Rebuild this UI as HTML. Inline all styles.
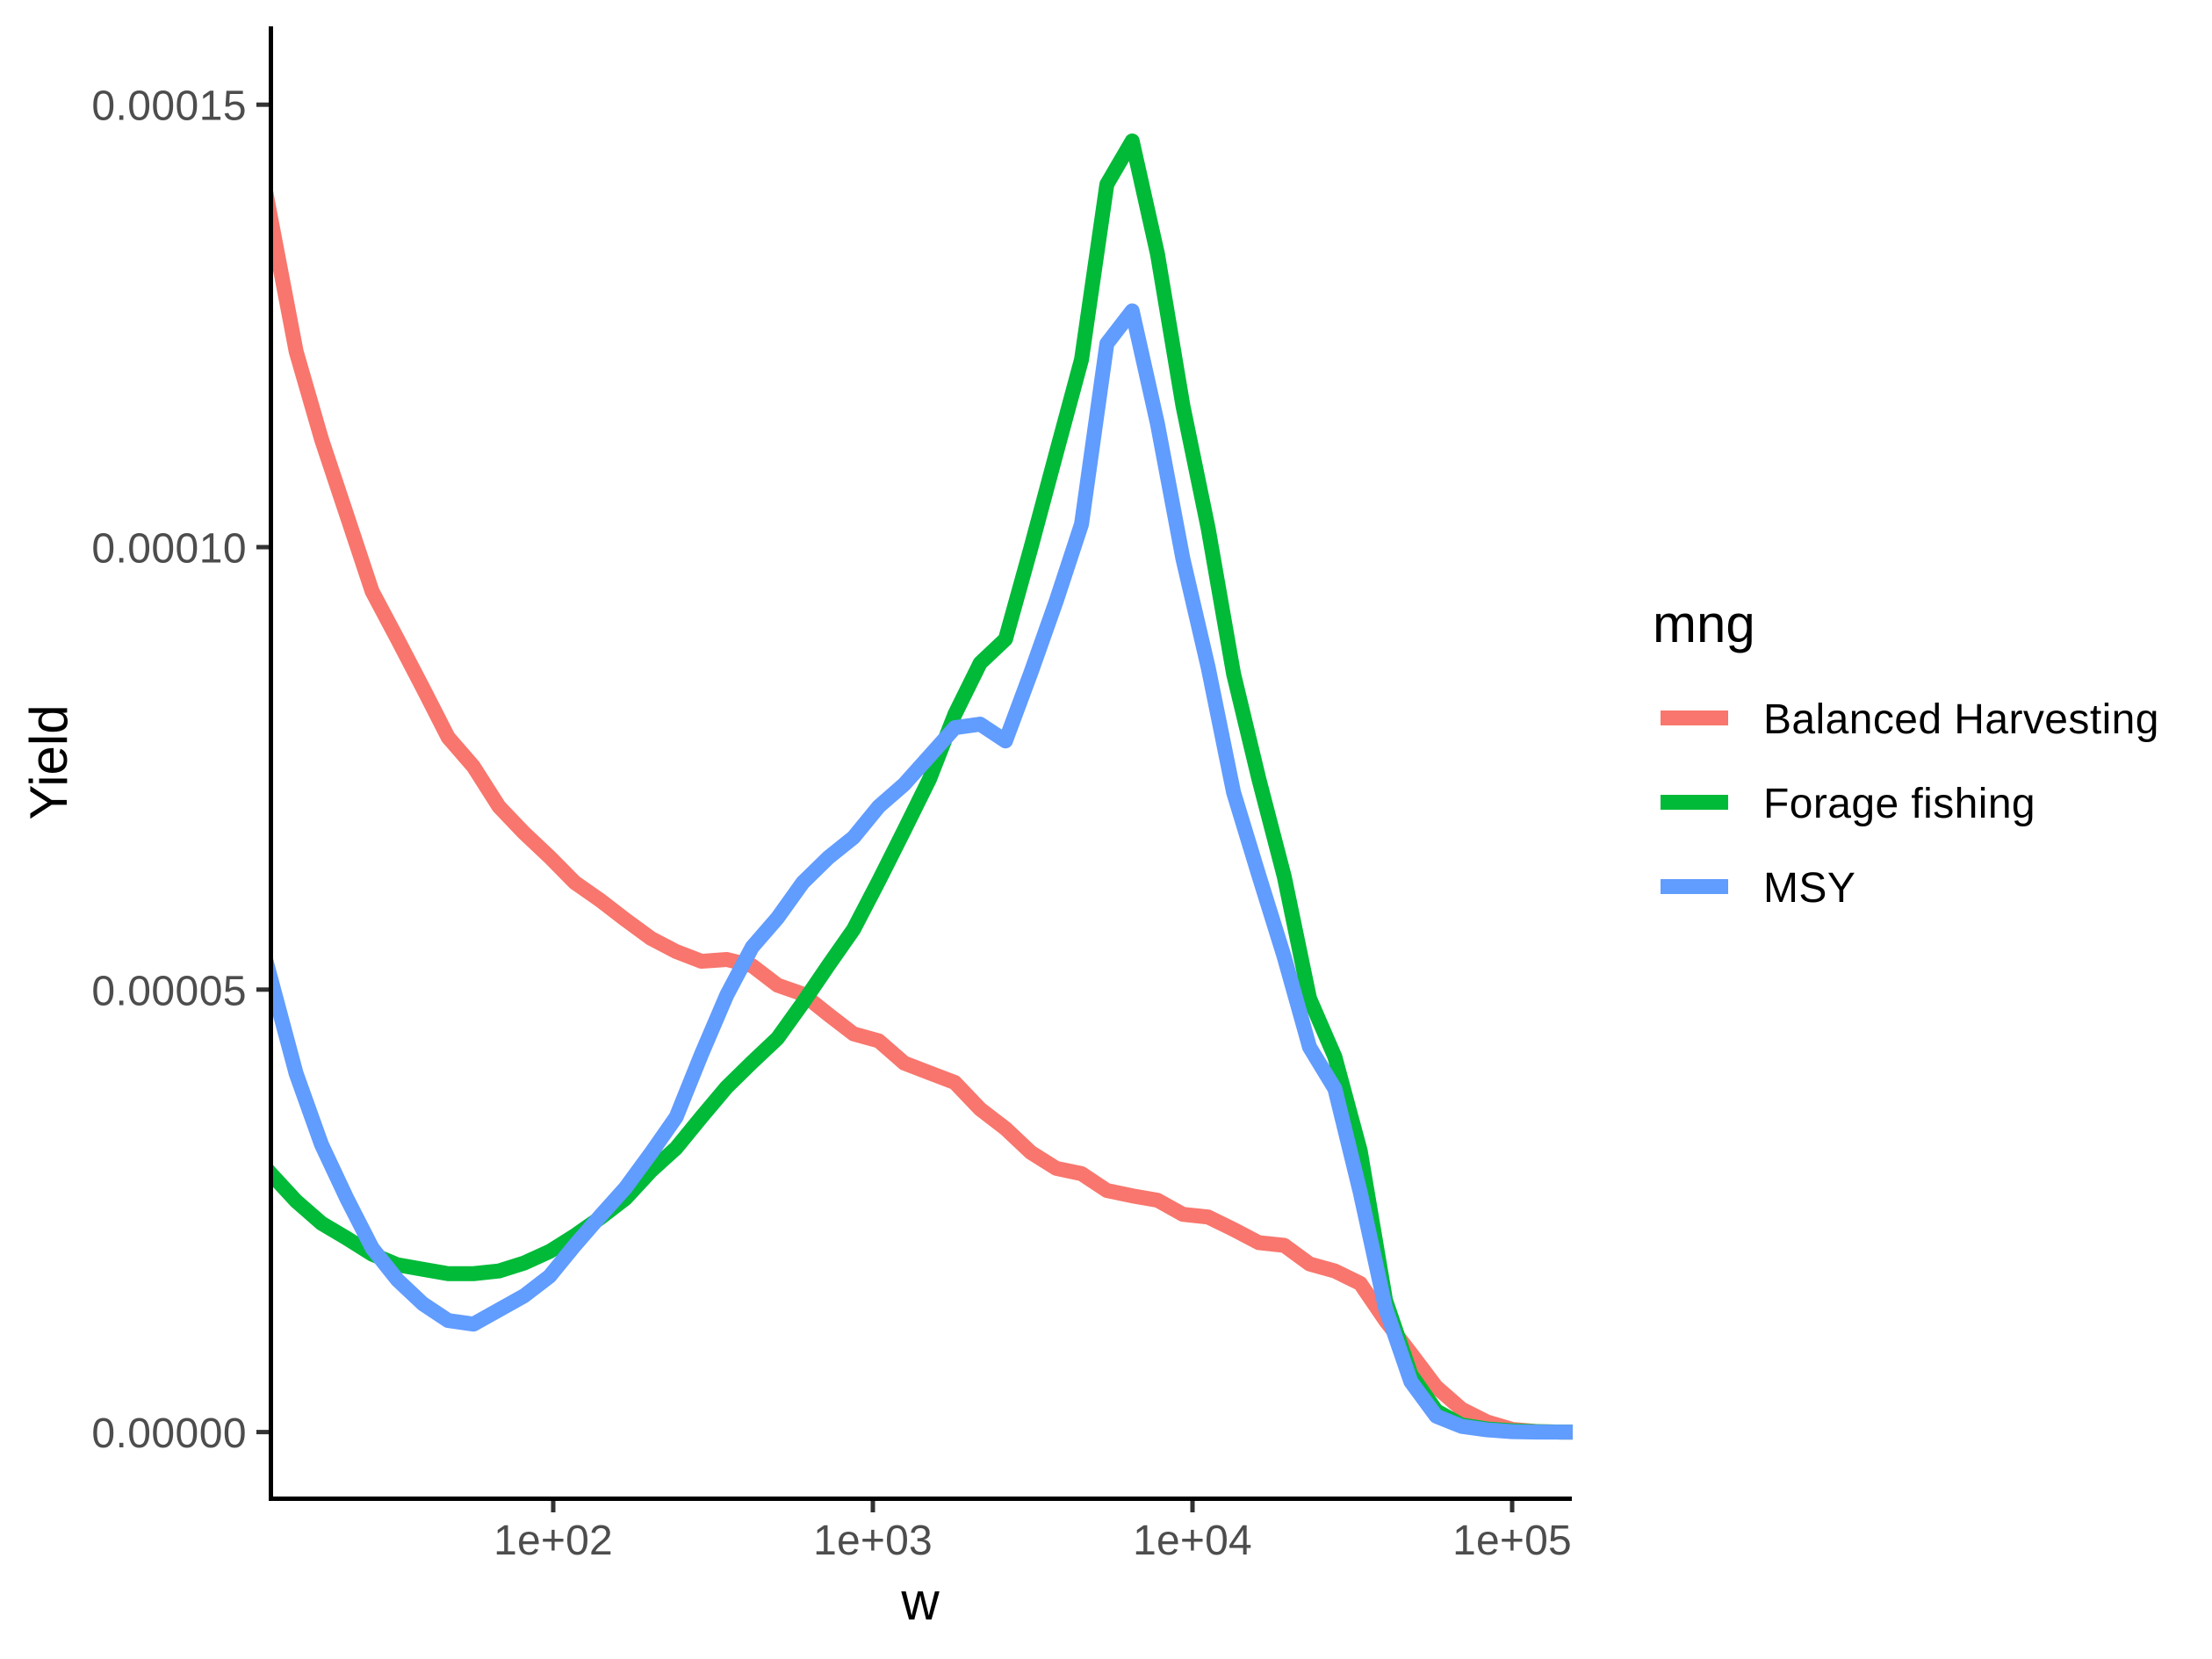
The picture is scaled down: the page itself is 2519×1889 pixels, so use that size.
<!DOCTYPE html>
<html lang="en">
<head>
<meta charset="utf-8">
<title>Yield by w</title>
<style>
  html, body { margin: 0; padding: 0; background: #fff; }
  svg { display: block; font-family: "Liberation Sans", Arial, sans-serif; }
</style>
</head>
<body>
<svg id="chart" xmlns="http://www.w3.org/2000/svg" width="2519" height="1889" viewBox="0 0 2519 1889">
  <defs>
    <clipPath id="panel-clip"><rect x="308.5" y="30" width="1482.5" height="1677"></rect></clipPath>
  </defs>
  <rect x="0" y="0" width="2519" height="1889" fill="#ffffff"></rect>
  <g id="series" clip-path="url(#panel-clip)"></g>
  <g id="axes"></g>
  <text x="1048" y="1844" font-size="60" text-anchor="middle" fill="#000">w</text>
  <text transform="translate(76 868) rotate(-90)" font-size="60" text-anchor="middle" fill="#000">Yield</text>
  <g>
    <text x="1882" y="731" font-size="60" fill="#000">mng</text>
    <g>
      <rect x="1891" y="809" width="77" height="17" fill="#F8766D"></rect>
      <text x="2008" y="835" font-size="48" letter-spacing="0.42" fill="#000">Balanced Harvesting</text>
    </g>
    <g>
      <rect x="1891" y="905" width="77" height="17" fill="#00BA38"></rect>
      <text x="2008" y="931" font-size="48" letter-spacing="0.42" fill="#000">Forage fishing</text>
    </g>
    <g>
      <rect x="1891" y="1001" width="77" height="17" fill="#619CFF"></rect>
      <text x="2008" y="1027" font-size="48" letter-spacing="0.42" fill="#000">MSY</text>
    </g>
  </g>
</svg>
<script>
// log10(w) of each size class (the first class lies just left of the visible panel)
const logW = [1.0372,1.1165,1.1958,1.2750,1.3543,1.4335,1.5128,1.5921,1.6713,1.7506,1.8298,1.9091,1.9884,2.0676,2.1469,2.2261,2.3054,2.3847,2.4639,2.5432,2.6224,2.7017,2.7810,2.8602,2.9395,3.0187,3.0980,3.1773,3.2565,3.3358,3.4150,3.4943,3.5736,3.6528,3.7321,3.8113,3.8906,3.9699,4.0491,4.1284,4.2076,4.2869,4.3662,4.4454,4.5247,4.6039,4.6832,4.7625,4.8417,4.9210,5.0002,5.0795,5.1588,5.2380];
// Yield in units of 1e-5
const yieldBalanced = [15.24,13.71,12.21,11.22,10.36,9.50,8.96,8.41,7.85,7.52,7.07,6.77,6.50,6.21,6.01,5.79,5.58,5.43,5.32,5.34,5.27,5.05,4.95,4.72,4.50,4.42,4.17,4.06,3.95,3.65,3.43,3.16,2.98,2.92,2.73,2.67,2.62,2.46,2.43,2.29,2.14,2.11,1.90,1.82,1.68,1.26,0.89,0.51,0.26,0.115,0.03,0.005,0,0];
const yieldForage = [3.24,2.92,2.61,2.36,2.19,2.01,1.89,1.84,1.79,1.79,1.82,1.91,2.04,2.22,2.42,2.64,2.95,3.21,3.56,3.90,4.18,4.45,4.85,5.27,5.68,6.23,6.80,7.38,8.11,8.69,8.96,9.99,11.06,12.12,14.10,14.59,13.31,11.60,10.21,8.57,7.38,6.28,4.90,4.24,3.18,1.49,0.65,0.24,0.08,0.035,0.015,0.005,0,0];
const yieldMSY = [6.19,5.12,4.05,3.25,2.64,2.08,1.72,1.45,1.26,1.22,1.38,1.54,1.76,2.11,2.44,2.76,3.15,3.56,4.27,4.94,5.48,5.81,6.21,6.49,6.72,7.07,7.32,7.64,7.96,8.00,7.81,8.58,9.39,10.26,12.30,12.67,11.39,9.87,8.64,7.23,6.29,5.37,4.35,3.88,2.71,1.40,0.57,0.18,0.065,0.025,0.005,0,0,0];
const xTickValues = [2,3,4,5];
const xTickLabels = ["1e+02","1e+03","1e+04","1e+05"];
const yTickValues = [0,5,10,15];
const yTickLabels = ["0.00000","0.00005","0.00010","0.00015"];

const NS = "http://www.w3.org/2000/svg";
function xScale(v) { return 630 + 364 * (v - 2); }
function yScale(v) { return 1630.6 - 100.76 * v; }
function make(tag, attrs, parent) {
  const el = document.createElementNS(NS, tag);
  for (const k in attrs) el.setAttribute(k, attrs[k]);
  parent.appendChild(el);
  return el;
}
const seriesGroup = document.getElementById("series");
const axesGroup = document.getElementById("axes");

function drawLine(values, color, name) {
  const pts = values.map((v, i) => xScale(logW[i]).toFixed(2) + "," + yScale(v).toFixed(2)).join(" ");
  const line = make("polyline", {points: pts, fill: "none", stroke: color, "stroke-width": 17, "stroke-linejoin": "round", "stroke-linecap": "butt"}, seriesGroup);
  
  
}
drawLine(yieldBalanced, "#F8766D", "line-balanced-harvesting");
drawLine(yieldForage, "#00BA38", "line-forage-fishing");
drawLine(yieldMSY, "#619CFF", "line-msy");

xTickValues.forEach((v, i) => {
  const x = xScale(v);
  const tick = make("line", {x1: x, x2: x, y1: 1706, y2: 1722, stroke: "#333333", "stroke-width": 5}, axesGroup);
  
  
  const label = make("text", {x: x, y: 1770, "font-size": 48, "letter-spacing": 0.2, "text-anchor": "middle", fill: "#4D4D4D"}, axesGroup);
  label.textContent = xTickLabels[i];
  
  
});
yTickValues.forEach((v, i) => {
  const y = yScale(v);
  const tick = make("line", {x1: 292, x2: 308, y1: y, y2: y, stroke: "#333333", "stroke-width": 5}, axesGroup);
  
  
  const label = make("text", {x: 281, y: y + 17.5, "font-size": 48, "letter-spacing": 0.45, "text-anchor": "end", fill: "#4D4D4D"}, axesGroup);
  label.textContent = yTickLabels[i];
  
  
});
const yAxisLine = make("line", {x1: 308.5, x2: 308.5, y1: 30, y2: 1709, stroke: "#000", "stroke-width": 5}, axesGroup);


const xAxisLine = make("line", {x1: 306, x2: 1790, y1: 1706.5, y2: 1706.5, stroke: "#000", "stroke-width": 5}, axesGroup);


</script>
</body>
</html>
